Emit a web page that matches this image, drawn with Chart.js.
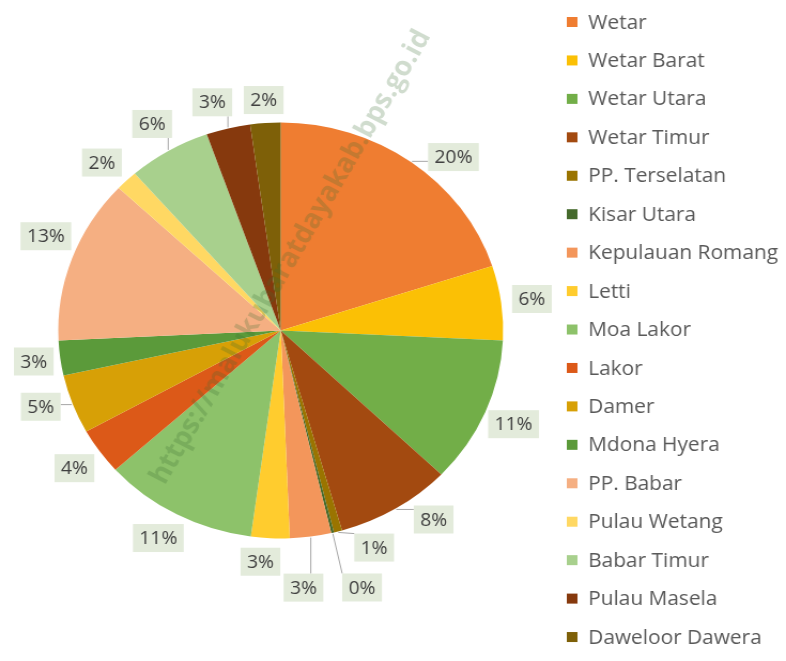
<!DOCTYPE html>
<html>
<head>
<meta charset="utf-8">
<title>Kecamatan - Maluku Barat Daya</title>
<script src="https://cdn.jsdelivr.net/npm/chart.js@4.4.1/dist/chart.umd.min.js"></script>
<style>
    html, body { margin: 0; padding: 0; background: #ffffff; }
</style>
</head>
<body>
<!-- the original picture is a little stretched sideways, so the canvas is too -->
<canvas id="pieChart" width="735" height="661" style="display:block;width:786px;height:661px"></canvas>
<script>
// Data
const districts = [
    'Wetar', 'Wetar Barat', 'Wetar Utara', 'Wetar Timur', 'PP. Terselatan',
    'Kisar Utara', 'Kepulauan Romang', 'Letti', 'Moa Lakor', 'Lakor',
    'Damer', 'Mdona Hyera', 'PP. Babar', 'Pulau Wetang', 'Babar Timur',
    'Pulau Masela', 'Daweloor Dawera'
];
const shares = [20.0, 5.8, 11.4, 8.4, 0.6, 0.2, 3.0, 2.8, 11.2, 3.6, 4.6, 2.7, 12.8, 1.6, 6.0, 3.2, 2.2];
const sliceColors = [
    '#EF7D31', '#FBC005', '#72AE48', '#A34A10', '#9A7400',
    '#456A2C', '#F3965B', '#FFCC2E', '#8DC26A', '#DC5918',
    '#D7A006', '#5B9A3A', '#F5AF82', '#FFD863', '#A8D08D',
    '#86390D', '#7E6008'
];

// Label placement tweaks: extra angle (degrees) and extra distance (px)
const labelTurn = [7, 0, 0, -6, -7, -3, 3, 2, 1, 0, 2, 0, 3, -1, 0, -2, 0];
const labelPush = [0, 0, 0, 0, -3, 31, 21, -5, 0, 0, 0, -4, 2, 0, 2, 0, -6];

const watermark = 'https://malukubaratdayakab.bps.go.id';

const total = shares.reduce((a, b) => a + b, 0);

function percentText(v) {
    return Math.round(v / total * 100) + '%';
}

// faint diagonal watermark over the pie
const watermarkPlugin = {
    id: 'watermark',
    afterDatasetsDraw(chart) {
        const ctx = chart.ctx;
        ctx.save();
        ctx.translate(272, 257);
        ctx.rotate(-61 * Math.PI / 180);
        let size = 25;
        ctx.font = 'bold ' + size + 'px "Open Sans"';
        const w = ctx.measureText(watermark).width;
        size = size * 515 / w;
        ctx.font = 'bold ' + size.toFixed(1) + 'px "Open Sans"';
        ctx.fillStyle = 'rgba(60, 110, 50, 0.24)';
        ctx.textAlign = 'center';
        ctx.textBaseline = 'middle';
        ctx.fillText(watermark, 0, 0);
        ctx.restore();
    }
};

// percentage boxes outside the pie, with leader lines
const labelPlugin = {
    id: 'sliceLabels',
    afterDraw(chart) {
        const ctx = chart.ctx;
        const arcs = chart.getDatasetMeta(0).data;
        ctx.save();
        ctx.font = '18px "Open Sans"';
        ctx.textAlign = 'center';
        ctx.textBaseline = 'middle';
        arcs.forEach((arc, i) => {
            const r = arc.outerRadius;
            const mid = (arc.startAngle + arc.endAngle) / 2;
            const ang = mid + labelTurn[i] * Math.PI / 180;
            const dist = r + 29 + labelPush[i];
            const lx = arc.x + Math.cos(ang) * dist;
            const ly = arc.y + Math.sin(ang) * dist;
            const text = percentText(shares[i]);
            const bw = ctx.measureText(text).width + 12;
            const bh = 28;
            const left = lx - bw / 2, top = ly - bh / 2;

            // leader line only when the box sits away from its slice
            const px = arc.x + Math.cos(mid) * (r + 1);
            const py = arc.y + Math.sin(mid) * (r + 1);
            const nx = Math.min(Math.max(px, left), left + bw);
            const ny = Math.min(Math.max(py, top), top + bh);
            if (Math.hypot(nx - px, ny - py) > 10) {
                ctx.strokeStyle = '#A6A6A6';
                ctx.lineWidth = 1;
                ctx.beginPath();
                ctx.moveTo(px, py);
                ctx.lineTo(nx, ny);
                ctx.stroke();
            }

            ctx.fillStyle = '#E3EBDB';
            ctx.fillRect(left, top, bw, bh);
            ctx.fillStyle = '#404040';
            ctx.fillText(text, lx, ly + 1);
        });
        ctx.restore();
    }
};

// legend drawn on the right as a single column
const legendPlugin = {
    id: 'sideLegend',
    afterDraw(chart) {
        const ctx = chart.ctx;
        ctx.save();
        ctx.font = '19.5px "Open Sans"';
        ctx.textAlign = 'left';
        ctx.textBaseline = 'middle';
        chart.data.labels.forEach((name, i) => {
            const y = 22 + i * 38.44;
            ctx.fillStyle = sliceColors[i];
            ctx.fillRect(530, y - 5, 10, 10);
            ctx.fillStyle = '#595959';
            ctx.fillText(name, 550, y + 1);
        });
        ctx.restore();
    }
};

new Chart(document.getElementById('pieChart'), {
    type: 'pie',
    data: {
        labels: districts,
        datasets: [{
            data: shares,
            backgroundColor: sliceColors,
            borderWidth: 0,
            radius: 208
        }]
    },
    options: {
        responsive: false,
        animation: false,
        devicePixelRatio: 1,
        layout: {
            padding: { left: 0, right: 210, top: 0, bottom: 0 }
        },
        plugins: {
            legend: { display: false },
            tooltip: { enabled: false }
        }
    },
    plugins: [watermarkPlugin, labelPlugin, legendPlugin]
});
</script>
</body>
</html>
